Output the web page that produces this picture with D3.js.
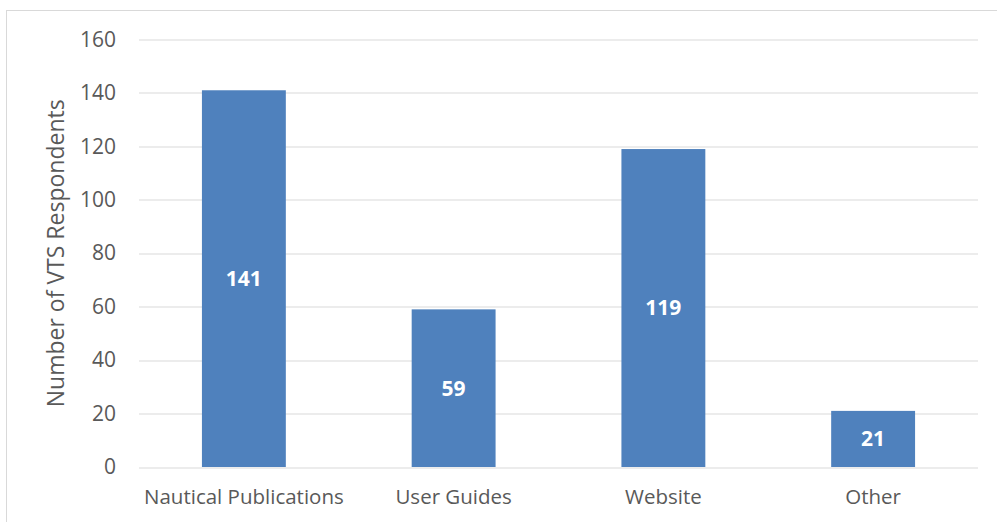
<!DOCTYPE html>
<html>
<head>
<meta charset="utf-8">
<script src="https://cdn.jsdelivr.net/npm/d3@7"></script>
<style>
  body { margin: 0; background: #fff; }
  svg text { font-family: "Open Sans", "Noto Sans", sans-serif; }
</style>
</head>
<body>
<div id="chart"></div>
<script>
// data
const categories = ['Nautical Publications', 'User Guides', 'Website', 'Other']
const respondents = [141, 59, 119, 21]
const yTicks = [0, 20, 40, 60, 80, 100, 120, 140, 160]

const W = 997
const H = 522
const margin = { top: 39.5, right: 19, bottom: 55, left: 139 }
const width = W - margin.left - margin.right
const height = H - margin.top - margin.bottom

const svg = d3.select('#chart').append('svg')
  .attr('width', W)
  .attr('height', H)

// chart border
svg.append('rect')
  .attr('x', 6.5).attr('y', 10.5)
  .attr('width', W + 10).attr('height', H)
  .attr('fill', 'none')
  .attr('stroke', '#d9d9d9')
  .attr('stroke-width', 1)

const g = svg.append('g')
  .attr('transform', 'translate(' + margin.left + ',' + margin.top + ')')

const x = d3.scaleBand()
  .domain(categories)
  .range([0, width])
  .paddingInner(0.6)
  .paddingOuter(0.3)

const y = d3.scaleLinear()
  .domain([0, 160])
  .range([height, 0])

// gridlines
g.append('g')
  .selectAll('line')
  .data(yTicks)
  .enter()
  .append('line')
    .attr('x1', 0)
    .attr('x2', width)
    .attr('y1', d => Math.round(y(d)) + 0.5)
    .attr('y2', d => Math.round(y(d)) + 0.5)
    .attr('stroke', '#d9d9d9')
    .attr('stroke-width', 1)

// y axis labels
const yAxis = d3.axisLeft(y).tickValues(yTicks).tickSize(0).tickPadding(23)
g.append('g')
    .call(yAxis)
    .call(a => a.select('.domain').remove())
    .selectAll('text')
      .attr('fill', '#595959')
      .style('font-size', '21px')

// x axis labels
const xAxis = d3.axisBottom(x).tickSize(0).tickPadding(22)
g.append('g')
    .attr('transform', 'translate(0,' + height + ')')
    .call(xAxis)
    .call(a => a.select('.domain').remove())
    .selectAll('text')
      .attr('fill', '#595959')
      .style('font-size', '20.5px')

// bars
g.selectAll('rect.bar')
    .data(respondents)
  .enter()
  .append('rect')
    .attr('class', 'bar')
    .attr('x', (d, i) => x(categories[i]))
    .attr('y', d => y(d))
    .attr('width', x.bandwidth())
    .attr('height', d => height - y(d))
    .attr('fill', '#4f81bd')

// value labels
g.selectAll('text.val')
    .data(respondents)
  .enter()
  .append('text')
    .attr('class', 'val')
    .attr('x', (d, i) => x(categories[i]) + x.bandwidth() / 2)
    .attr('y', d => y(d / 2))
    .attr('dy', '0.35em')
    .attr('text-anchor', 'middle')
    .attr('fill', '#fff')
    .style('font-size', '21px')
    .style('font-weight', 'bold')
    .text(d => d)

// axis title
svg.append('text')
  .attr('transform', 'translate(64,' + (margin.top + height / 2) + ') rotate(-90)')
  .attr('text-anchor', 'middle')
  .attr('fill', '#595959')
  .style('font-size', '23px')
  .text('Number of VTS Respondents')
</script>
</body>
</html>
